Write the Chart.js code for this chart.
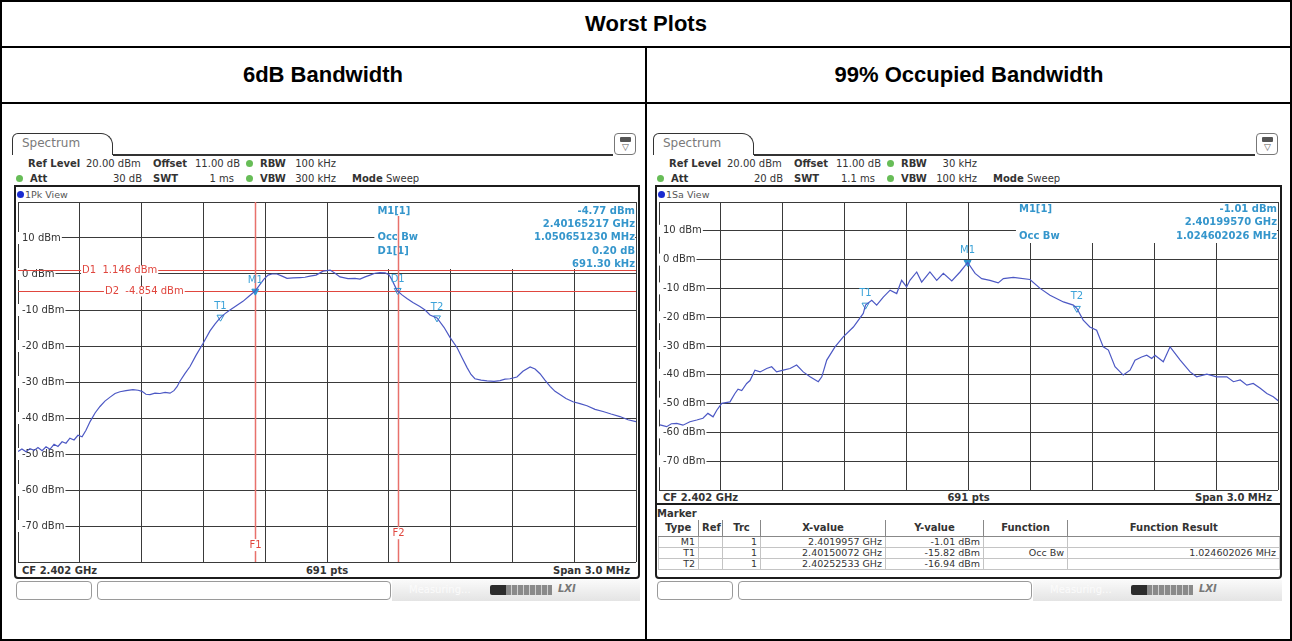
<!DOCTYPE html>
<html>
<head>
<meta charset="utf-8">
<title>Worst Plots</title>
<script src="https://cdn.jsdelivr.net/npm/chart.js@4.4.1/dist/chart.umd.min.js"></script>
<style>
  body { margin: 0; background: #fff; }
  #page { position: relative; width: 1292px; height: 641px; overflow: hidden; font-family: "Liberation Sans", Arial, sans-serif; }
  .abs { position: absolute; white-space: nowrap; }
  .rule { position: absolute; background: #000; }
  .head { position: absolute; font-weight: bold; font-size: 22px; text-align: center; line-height: 26px; }
  .sa { font-family: "DejaVu Sans", sans-serif; font-size: 10px; color: #333; line-height: 13px; }
  .b { font-weight: bold; }
  .dot { width: 7px; height: 7px; border-radius: 50%; background: #67bd57; }
  .frame { border: 2px solid #1c1c1c; border-radius: 0 0 4px 4px; box-sizing: border-box; }
  .sbox { height: 19px; border: 1px solid #9a9a9a; border-radius: 4px; box-sizing: border-box; background: #fff; }
  canvas { position: absolute; z-index: 2; }
  #mk { position: absolute; border-collapse: collapse; font-family: "DejaVu Sans", sans-serif; font-size: 9.5px; color: #333; table-layout: fixed; }
  #mk th { font-weight: bold; font-size: 10px; height: 16px; line-height: 16px; padding: 0 3px; border-left: 1px solid #888; border-bottom: 1px solid #888; text-align: center; }
  #mk td { height: 10px; line-height: 10px; padding: 0 3px; border: 1px solid #c4c4c4; text-align: right; }
</style>
</head>
<body>
<div id="page">
  <div class="rule" style="left:0;top:0;width:1292px;height:2px"></div>
  <div class="rule" style="left:0;top:639px;width:1292px;height:2px"></div>
  <div class="rule" style="left:0;top:0;width:2px;height:641px"></div>
  <div class="rule" style="left:1290px;top:0;width:2px;height:641px"></div>
  <div class="rule" style="left:0;top:46px;width:1292px;height:2px"></div>
  <div class="rule" style="left:0;top:102px;width:1292px;height:2px"></div>
  <div class="rule" style="left:645px;top:46px;width:2px;height:595px"></div>
  <div class="head" style="left:0;top:11px;width:1292px">Worst Plots</div>
  <div class="head" style="left:0;top:62px;width:646px">6dB Bandwidth</div>
  <div class="head" style="left:646px;top:62px;width:646px">99% Occupied Bandwidth</div>
  <canvas id="left" width="622" height="390" style="left:16px;top:187px"></canvas>
  <canvas id="right" width="623" height="318" style="left:657px;top:187px"></canvas>
</div>
<script>
// frequency grid (10 divisions over the 3 MHz span) and level scale
const gridFreqMHz = [2400.5, 2400.8, 2401.1, 2401.4, 2401.7, 2402.0, 2402.3, 2402.6, 2402.9, 2403.2, 2403.5]
const levelTicks = [-80, -70, -60, -50, -40, -30, -20, -10, 0, 10, 20]
const levelTickLabels = ["", "-70 dBm", "-60 dBm", "-50 dBm", "-40 dBm", "-30 dBm", "-20 dBm", "-10 dBm", "0 dBm", "10 dBm", ""]

// 6 dB bandwidth trace (1Pk View)
const leftFreqMHz = [
  2400.500, 2400.519, 2400.539, 2400.558, 2400.578, 2400.597, 2400.617, 2400.636, 2400.655, 2400.675,
  2400.694, 2400.714, 2400.733, 2400.752, 2400.772, 2400.791, 2400.811, 2400.830, 2400.850, 2400.874,
  2400.898, 2400.922, 2400.947, 2400.971, 2400.995, 2401.024, 2401.058, 2401.083, 2401.102, 2401.121,
  2401.141, 2401.165, 2401.189, 2401.214, 2401.238, 2401.257, 2401.272, 2401.286, 2401.311, 2401.335,
  2401.364, 2401.398, 2401.432, 2401.456, 2401.481, 2401.505, 2401.529, 2401.558, 2401.592, 2401.621,
  2401.650, 2401.675, 2401.694, 2401.714, 2401.733, 2401.757, 2401.782, 2401.806, 2401.835, 2401.869,
  2401.893, 2401.917, 2401.947, 2401.981, 2402.015, 2402.039, 2402.063, 2402.102, 2402.136, 2402.160,
  2402.185, 2402.209, 2402.233, 2402.257, 2402.282, 2402.301, 2402.316, 2402.340, 2402.364, 2402.388,
  2402.417, 2402.451, 2402.476, 2402.500, 2402.534, 2402.568, 2402.597, 2402.631, 2402.655, 2402.680,
  2402.699, 2402.718, 2402.748, 2402.777, 2402.811, 2402.840, 2402.864, 2402.888, 2402.922, 2402.951,
  2402.986, 2403.010, 2403.034, 2403.058, 2403.083, 2403.107, 2403.131, 2403.160, 2403.194, 2403.228,
  2403.262, 2403.301, 2403.340, 2403.379, 2403.422, 2403.461, 2403.500
]
const leftLevelDbm = [
  -49.3, -48.6, -49.4, -48.5, -49.0, -48.2, -49.1, -48.0, -48.7, -47.3,
  -47.9, -46.6, -47.0, -45.6, -46.1, -44.8, -45.2, -43.4, -41.0, -38.6,
  -36.8, -35.3, -34.2, -33.2, -32.7, -32.4, -32.1, -32.3, -32.6, -33.4,
  -33.5, -33.1, -33.2, -32.9, -33.1, -32.4, -31.3, -29.8, -27.6, -25.7,
  -22.6, -19.3, -15.8, -13.9, -12.2, -11.0, -10.0, -8.9, -7.6, -6.2,
  -4.8, -2.9, -1.4, -0.3, 0.0, 0.0, -0.6, -1.2, -1.1, -1.0,
  -0.9, -0.6, -0.3, 0.8, 1.1, 0.2, -0.8, -1.3, -1.2, -1.4,
  -0.8, -0.3, 0.2, 0.4, 0.3, -0.2, -1.7, -4.6, -5.8, -6.8,
  -7.9, -9.0, -10.0, -11.4, -12.2, -14.8, -17.6, -20.4, -23.2, -26.0,
  -27.9, -29.1, -29.5, -29.7, -29.8, -29.6, -29.2, -29.1, -28.6, -27.0,
  -25.8, -26.4, -27.7, -29.5, -31.2, -32.6, -33.5, -34.6, -35.5, -36.0,
  -36.6, -37.6, -38.2, -38.9, -39.6, -40.5, -41.0
]
const leftMarkerNames = ["M1", "T1", "D1", "T2"]
const leftMarkerFreq = [2401.652, 2401.483, 2402.343, 2402.534]
const leftMarkerLevel = [-4.77, -12.0, -4.57, -12.2]
const leftDisplayLineNames = ["D1", "D2"]
const leftDisplayLineDbm = [1.146, -4.854]
const leftFreqLineNames = ["F1", "F2"]
const leftFreqLineMHz = [2401.652, 2402.343]

// 99 % occupied bandwidth trace (1Sa View)
const rightFreqMHz = [
  2400.505, 2400.537, 2400.560, 2400.586, 2400.616, 2400.650, 2400.683, 2400.713, 2400.737, 2400.762,
  2400.780, 2400.804, 2400.844, 2400.868, 2400.883, 2400.901, 2400.925, 2400.941, 2400.965, 2400.990,
  2401.022, 2401.046, 2401.070, 2401.102, 2401.135, 2401.167, 2401.199, 2401.232, 2401.272, 2401.289,
  2401.313, 2401.353, 2401.393, 2401.442, 2401.490, 2401.501, 2401.531, 2401.555, 2401.587, 2401.620,
  2401.652, 2401.676, 2401.700, 2401.716, 2401.749, 2401.773, 2401.813, 2401.846, 2401.878, 2401.919,
  2401.959, 2401.996, 2402.032, 2402.064, 2402.104, 2402.144, 2402.169, 2402.217, 2402.298, 2402.347,
  2402.395, 2402.460, 2402.508, 2402.525, 2402.556, 2402.588, 2402.621, 2402.653, 2402.678, 2402.710,
  2402.750, 2402.783, 2402.807, 2402.839, 2402.864, 2402.888, 2402.904, 2402.944, 2402.977, 2403.026,
  2403.074, 2403.106, 2403.155, 2403.203, 2403.252, 2403.284, 2403.317, 2403.349, 2403.380, 2403.414,
  2403.446, 2403.477, 2403.501
]
const rightLevelDbm = [
  -57.4, -58.0, -57.0, -56.9, -57.5, -56.3, -55.7, -55.1, -53.4, -54.6,
  -52.3, -49.9, -49.4, -46.5, -45.0, -45.5, -43.0, -42.0, -38.4, -39.0,
  -37.8, -37.2, -39.0, -38.4, -37.8, -36.6, -39.0, -40.7, -42.4, -40.7,
  -34.9, -30.3, -26.8, -23.4, -18.7, -15.8, -14.1, -15.8, -13.0, -10.6,
  -11.8, -7.2, -9.5, -7.2, -4.3, -7.8, -4.3, -7.2, -4.8, -7.4,
  -4.3, -1.0, -4.8, -6.6, -7.2, -8.1, -6.6, -6.2, -6.9, -10.0,
  -12.4, -14.7, -15.8, -16.9, -21.0, -23.4, -24.5, -30.3, -31.4, -37.2,
  -40.1, -38.4, -34.9, -33.8, -33.2, -34.3, -33.2, -35.5, -30.3, -34.9,
  -39.0, -40.7, -39.8, -40.7, -40.7, -42.4, -41.8, -43.6, -43.0, -44.7,
  -46.5, -47.6, -49.0
]
const rightMarkerNames = ["M1", "T1", "T2"]
const rightMarkerFreq = [2401.9957, 2401.50072, 2402.52533]
const rightMarkerLevel = [-1.01, -15.82, -16.94]

const markerBlue = "#2f97d0"
const lineRed = "#e0463e"

const spectrumOverlay = {
  id: "spectrumOverlay",
  beforeDatasetsDraw(chart, args, o) {
    const { ctx, chartArea: a, scales: { x, y } } = chart
    ctx.save()
    // marker readout in the upper right hides the grid behind it
    const bx = x.getPixelForValue(o.boxFrom)
    ctx.fillStyle = "#fff"
    ctx.fillRect(bx, a.top + 1, a.right - bx - 1, o.boxHeight)
    ctx.font = 'bold 10px "DejaVu Sans"'
    ctx.fillStyle = "#3596cc"
    ctx.textBaseline = "middle"
    o.readout.forEach((row, i) => {
      const ty = a.top + o.rowTop + i * o.rowStep
      ctx.textAlign = "left"
      ctx.fillText(row[0], bx + 3, ty)
      ctx.textAlign = "right"
      ctx.fillText(row[1], a.right - 1, ty)
    })

    ctx.font = '10px "DejaVu Sans"'
    ctx.textAlign = "left"
    ;(o.levelLines || []).forEach(l => {
      const ly = Math.round(y.getPixelForValue(l.value)) + 0.5
      ctx.strokeStyle = lineRed
      ctx.lineWidth = 1
      ctx.beginPath(); ctx.moveTo(a.left, ly); ctx.lineTo(a.right, ly); ctx.stroke()
      const lx = x.getPixelForValue(l.labelAt)
      const w = ctx.measureText(l.text).width
      ctx.fillStyle = "#fff"
      ctx.fillRect(lx - 1, ly - 5, w + 2, 10)
      ctx.fillStyle = lineRed
      ctx.fillText(l.text, lx, ly)
    })
    ;(o.freqLines || []).forEach(l => {
      const lx = Math.round(x.getPixelForValue(l.value)) + 0.5
      const top = l.top == null ? a.top : y.getPixelForValue(l.top)
      ctx.strokeStyle = "#e8716b"
      ctx.lineWidth = 1.5
      ctx.beginPath(); ctx.moveTo(lx, top); ctx.lineTo(lx, a.bottom); ctx.stroke()
      const ly = y.getPixelForValue(l.labelLevel)
      const w = ctx.measureText(l.text).width
      ctx.fillStyle = "#fff"
      ctx.fillRect(lx - w / 2 - 1, ly - 6, w + 2, 12)
      ctx.fillStyle = lineRed
      ctx.textAlign = "center"
      ctx.fillText(l.text, lx, ly)
    })
    ctx.restore()
  },
  afterDatasetsDraw(chart, args, o) {
    const { ctx } = chart
    const meta = chart.getDatasetMeta(1)
    ctx.save()
    ctx.font = '10px "DejaVu Sans"'
    ctx.fillStyle = "#3ba2d8"
    ctx.textAlign = "center"
    ctx.textBaseline = "middle"
    meta.data.forEach((pt, i) => ctx.fillText(o.markerNames[i], pt.x, pt.y - o.labelLift))
    ctx.restore()
  }
}

function spectrumChart(id, freq, level, mFreq, mLevel, mNames, padding, overlay) {
  return new Chart(document.getElementById(id), {
    type: "line",
    data: {
      datasets: [
        {
          data: freq.map((f, i) => ({ x: f, y: level[i] })),
          borderColor: "#4c58c4",
          borderWidth: 1.2,
          pointRadius: 0,
          tension: 0
        },
        {
          data: mFreq.map((f, i) => ({ x: f, y: mLevel[i] })),
          showLine: false,
          pointStyle: "triangle",
          rotation: 180,
          pointRadius: 4,
          borderColor: markerBlue,
          borderWidth: 1,
          backgroundColor: mNames.map(n => n === "M1" ? markerBlue : "rgba(0,0,0,0)")
        }
      ]
    },
    options: {
      responsive: false,
      animation: false,
      events: [],
      layout: { padding: padding, autoPadding: false },
      plugins: {
        legend: { display: false },
        tooltip: { enabled: false },
        spectrumOverlay: Object.assign({ markerNames: mNames }, overlay)
      },
      scales: {
        x: {
          type: "linear",
          min: 2400.5,
          max: 2403.5,
          afterBuildTicks: s => { s.ticks = gridFreqMHz.map(v => ({ value: v })) },
          afterFit: s => { s.height = 0 },
          ticks: { display: false },
          grid: { color: "#3a3a3a", drawTicks: false },
          border: { display: false }
        },
        y: {
          min: -80,
          max: 20,
          afterBuildTicks: s => { s.ticks = levelTicks.map(v => ({ value: v })) },
          afterFit: s => { s.width = 0 },
          ticks: {
            mirror: true,
            padding: 4,
            color: "#333",
            font: { family: "DejaVu Sans", size: 10 },
            callback: v => levelTickLabels[levelTicks.indexOf(v)],
            showLabelBackdrop: true,
            backdropColor: c => (c.tick && c.tick.label) ? "#fff" : "rgba(0,0,0,0)",
            backdropPadding: { left: 4, right: 1, top: 0, bottom: 0 }
          },
          grid: { color: "#3a3a3a", drawTicks: false },
          border: { display: false }
        }
      }
    },
    plugins: [spectrumOverlay]
  })
}

spectrumChart("left", leftFreqMHz, leftLevelDbm, leftMarkerFreq, leftMarkerLevel, leftMarkerNames,
  { left: 2, right: 2, top: 15, bottom: 15 },
  {
    boxFrom: 2402.23, boxHeight: 66, rowTop: 9, rowStep: 13.4, labelLift: 11,
    readout: [["M1[1]", "-4.77 dBm"], ["", "2.40165217 GHz"], ["Occ Bw", "1.050651230 MHz"], ["D1[1]", "0.20 dB"], ["", "691.30 kHz"]],
    levelLines: leftDisplayLineDbm.map((v, i) => ({ value: v, text: leftDisplayLineNames[i] + "  " + v.toFixed(3) + " dBm", labelAt: [2400.811, 2400.922][i] })),
    freqLines: leftFreqLineMHz.map((v, i) => ({ value: v, text: leftFreqLineNames[i], top: [null, 16.1][i], labelLevel: [-75.3, -72][i] }))
  })

spectrumChart("right", rightFreqMHz, rightLevelDbm, rightMarkerFreq, rightMarkerLevel, rightMarkerNames,
  { left: 2, right: 2, top: 15, bottom: 15 },
  {
    boxFrom: 2402.23, boxHeight: 40, rowTop: 7, rowStep: 13.5, labelLift: 12,
    readout: [["M1[1]", "-1.01 dBm"], ["", "2.40199570 GHz"], ["Occ Bw", "1.024602026 MHz"]]
  })

// analyzer screen chrome around each plot
const page = document.getElementById("page")
function put(x, y, cls, html, css) {
  const d = document.createElement("div")
  d.className = "abs " + cls
  d.style.left = x + "px"
  d.style.top = y + "px"
  if (css) d.style.cssText += css
  d.innerHTML = html || ""
  page.appendChild(d)
  return d
}

function screenChrome(p) {
  const L = p.left, R = p.right
  put(L - 2, 133, "", "", "width:101px;height:22px;border:1.5px solid #333;border-bottom:none;border-radius:6px 12px 0 0;box-sizing:border-box")
  put(L + 8, 137, "sa", "Spectrum", "font-size:12px;color:#7a7a7a")
  put(L + 99, 154, "", "", "width:" + (R - L - 126) + "px;height:1.5px;background:#333")
  put(R - 26, 133, "", '<div style="width:11px;height:5px;background:#555;margin:3px auto 0;border-radius:1px"></div><div style="text-align:center;font-size:9px;line-height:10px;color:#555">&#9661;</div>',
    "width:22px;height:22px;border:1px solid #777;border-radius:4px;box-sizing:border-box")

  put(L + 14, 157, "sa b", "Ref Level")
  put(L + 72, 157, "sa", "20.00 dBm")
  put(L + 139, 157, "sa b", "Offset")
  put(L + 181, 157, "sa", "11.00 dB")
  put(L + 232, 160, "dot", "")
  put(L + 246, 157, "sa b", "RBW")
  put(L + 272, 157, "sa", p.rbw, "width:50px;text-align:right")
  put(L + 2, 175, "dot", "")
  put(L + 16, 172, "sa b", "Att")
  put(L + 78, 172, "sa", p.att, "width:50px;text-align:right")
  put(L + 139, 172, "sa b", "SWT")
  put(L + 170, 172, "sa", p.swt, "width:50px;text-align:right")
  put(L + 232, 175, "dot", "")
  put(L + 246, 172, "sa b", "VBW")
  put(L + 272, 172, "sa", p.vbw, "width:50px;text-align:right")
  put(L + 338, 172, "sa b", "Mode")
  put(L + 372, 172, "sa", "Sweep")

  put(L, 185, "frame", "", "width:" + (R - L) + "px;height:394px")
  put(L + 3, 191, "", "", "width:7px;height:7px;border-radius:50%;background:#1a2bd0")
  put(L + 11, 188, "sa", p.view, "font-size:9.5px;color:#555")
  put(L + 8, p.cfTop, "sa b", "CF 2.402 GHz")
  put(L, p.cfTop, "sa b", "691 pts", "width:" + (R - L) + "px;text-align:center")
  put(R - 110, p.cfTop, "sa b", "Span 3.0 MHz", "width:100px;text-align:right")

  put(L + 2, 581, "sbox", "", "width:76px")
  put(L + 83, 581, "sbox", "", "width:294px")
  put(L + 378, 580, "", "", "width:" + (R - L - 378) + "px;height:21px;background:linear-gradient(#fafafa,#e4e4e4)")
  put(L + 395, 583, "sa", "Measuring...", "color:#fbfbfb")
  put(L + 476, 585, "", "", "width:16px;height:10px;background:#2c2c2c;border-radius:2px 0 0 2px")
  put(L + 492, 585, "", "", "width:46px;height:10px;background:repeating-linear-gradient(90deg,#8a8a8a 0 5px,#d0d0d0 5px 6px)")
  put(L + 544, 582, "sa b", "LXI", "font-style:italic;color:#777")
}

screenChrome({ left: 14, right: 640, view: "1Pk View", rbw: "100 kHz", att: "30 dB", swt: "1 ms", vbw: "300 kHz", cfTop: 564 })
screenChrome({ left: 655, right: 1282, view: "1Sa View", rbw: "30 kHz", att: "20 dB", swt: "1.1 ms", vbw: "100 kHz", cfTop: 491 })

// marker table below the 99 % plot
put(655, 503, "", "", "width:627px;height:2px;background:#1c1c1c")
put(657, 507, "sa b", "Marker")
const tbl = document.createElement("table")
tbl.id = "mk"
tbl.style.left = "658px"
tbl.style.top = "520px"
tbl.style.width = "621px"
tbl.innerHTML =
  '<colgroup><col style="width:40px"><col style="width:24px"><col style="width:38px"><col style="width:125px"><col style="width:98px"><col style="width:84px"><col style="width:212px"></colgroup>' +
  "<tr><th style='border-left:none'>Type</th><th>Ref</th><th>Trc</th><th>X-value</th><th>Y-value</th><th>Function</th><th>Function Result</th></tr>" +
  "<tr><td>M1</td><td></td><td>1</td><td>2.4019957 GHz</td><td>-1.01 dBm</td><td></td><td></td></tr>" +
  "<tr><td>T1</td><td></td><td>1</td><td>2.40150072 GHz</td><td>-15.82 dBm</td><td>Occ Bw</td><td>1.024602026 MHz</td></tr>" +
  "<tr><td>T2</td><td></td><td>1</td><td>2.40252533 GHz</td><td>-16.94 dBm</td><td></td><td></td></tr>"
page.appendChild(tbl)
</script>
</body>
</html>
